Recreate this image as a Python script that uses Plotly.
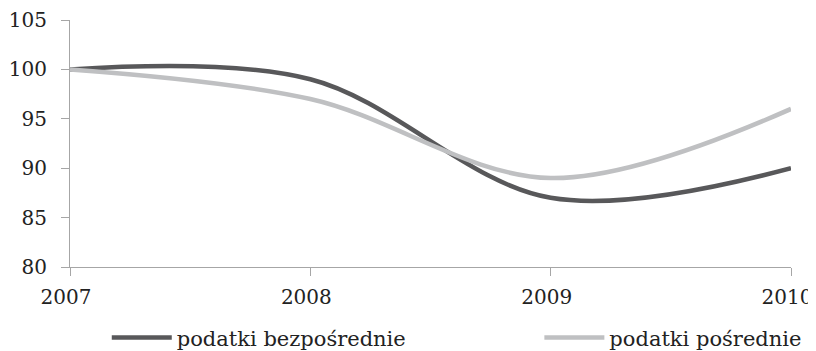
import plotly.graph_objects as go

years = [2007, 2008, 2009, 2010]
bezposrednie = [100, 99, 87, 90]
posrednie = [100, 97, 89, 96]
names = ["podatki bezpośrednie", "podatki pośrednie"]
y_ticks = [80, 85, 90, 95, 100, 105]

font_family = "DejaVu Serif"
axis_grey = "#a6a6a6"

fig = go.Figure()
fig.add_trace(go.Scatter(x=years, y=bezposrednie, mode="lines", name=names[0], legend="legend",
                         line=dict(color="#58585a", width=4.5, shape="spline", smoothing=1)))
fig.add_trace(go.Scatter(x=years, y=posrednie, mode="lines", name=names[1], legend="legend2",
                         line=dict(color="#bfc0c2", width=4.5, shape="spline", smoothing=1)))

leg_common = dict(orientation="h", xanchor="left", yanchor="middle", itemwidth=60,
                  font=dict(family=font_family, size=21, color="#222222"),
                  bgcolor="rgba(0,0,0,0)")

fig.update_layout(
    width=816, height=351,
    margin=dict(l=62, r=33, t=12, b=92, autoexpand=False),
    paper_bgcolor="white", plot_bgcolor="white",
    font=dict(family=font_family, size=20, color="#222222"),
    showlegend=True,
    legend=dict(x=0.051, y=-0.287, **leg_common),
    legend2=dict(x=0.651, y=-0.287, **leg_common),
)
fig.update_xaxes(range=[2007, 2010], tickvals=years, ticktext=[str(y) for y in years],
                 showgrid=False, zeroline=False, showline=True, linecolor=axis_grey, linewidth=1,
                 ticks="outside", ticklen=8, tickcolor=axis_grey, tickfont=dict(size=20),
                 ticklabelstandoff=4, ticklabelshift=-4, automargin=False)
fig.update_yaxes(range=[80, 105], tickvals=y_ticks,
                 showgrid=False, zeroline=False, showline=True, linecolor=axis_grey, linewidth=1,
                 ticks="outside", ticklen=8, tickcolor=axis_grey, tickfont=dict(size=20),
                 ticklabelstandoff=10, automargin=False)

fig.write_html("out.html")
